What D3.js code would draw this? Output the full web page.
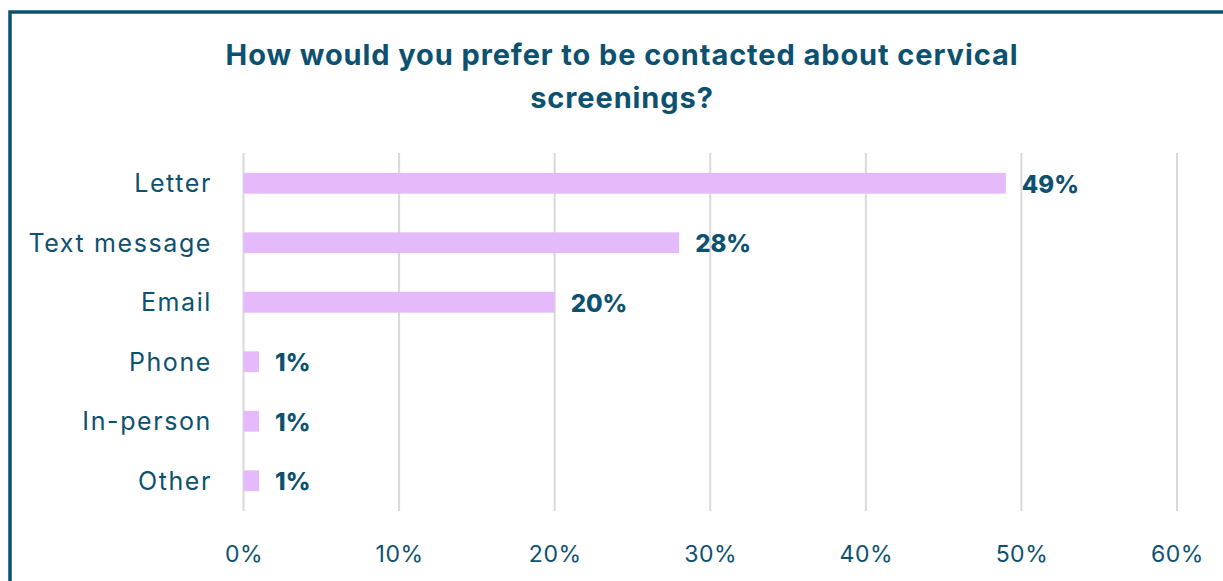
<!DOCTYPE html>
<html lang="en">
  <head>
    <meta charset="utf-8">
    <title>Contact preference</title>
    <style>
      body { margin: 0; background: #fff; }
    </style>
  </head>
  <body>
    <svg id="canvas"></svg>
    <script src="https://cdn.jsdelivr.net/npm/d3@7"></script>
    <script>

      const width = 1223;
      const height = 581;

      const categories = ["Letter", "Text message", "Email", "Phone", "In-person", "Other"];
      const values = [49, 28, 20, 1, 1, 1];
      const ticks = [0, 10, 20, 30, 40, 50, 60];
      const titleLines = ["How would you prefer to be contacted about cervical", "screenings?"];

      const ink = "#0d5170";
      const barColor = "#e5bafb";
      const fontFamily = "Inter, 'Open Sans', sans-serif";

      const svg = d3.select("#canvas")
        .attr("width", width)
        .attr("height", height)
        .attr("viewBox", [0, 0, width, height]);

      // frame, runs off the right and bottom edges
      svg.append("rect")
        .attr("x", 10)
        .attr("y", 12)
        .attr("width", width + 20)
        .attr("height", height + 20)
        .attr("fill", "none")
        .attr("stroke", ink)
        .attr("stroke-width", 3.5);

      // title
      const title = svg.append("text")
        .attr("text-anchor", "middle")
        .attr("font-family", fontFamily)
        .attr("font-weight", 700)
        .attr("font-size", 29)
        .attr("letter-spacing", 0.9)
        .attr("fill", ink);
      title.selectAll("tspan")
        .data(titleLines)
        .join("tspan")
        .attr("x", 622)
        .attr("y", (d, i) => 65 + i * 43)
        .text(d => d);

      const x = d3.scaleLinear()
        .domain([0, 60])
        .range([243.5, 1177]);

      const y = d3.scaleBand()
        .domain(categories)
        .range([153.5, 510.5])
        .paddingInner(0.65)
        .paddingOuter(0.325);

      // grid
      svg.append("g")
        .selectAll("line")
        .data(ticks)
        .join("line")
        .attr("x1", d => x(d))
        .attr("x2", d => x(d))
        .attr("y1", 153)
        .attr("y2", 511)
        .attr("stroke", "#d9d9d9")
        .attr("stroke-width", 2);

      // x axis labels
      const xAxis = svg.append("g")
        .attr("transform", "translate(0,562)")
        .call(d3.axisBottom(x).tickValues(ticks).tickFormat(d => d + "%").tickSize(0).tickPadding(0));
      xAxis.select(".domain").remove();
      xAxis.selectAll("text")
        .attr("dy", 0)
        .attr("font-family", fontFamily)
        .attr("font-size", 23)
        .attr("letter-spacing", 0.5)
        .attr("fill", ink);

      // y axis labels
      const yAxis = svg.append("g")
        .attr("transform", "translate(212,0)")
        .call(d3.axisLeft(y).tickSize(0).tickPadding(0));
      yAxis.select(".domain").remove();
      yAxis.selectAll("text")
        .attr("dy", "0.35em")
        .attr("font-family", fontFamily)
        .attr("font-size", 25)
        .attr("letter-spacing", 1.6)
        .attr("fill", ink);

      const rows = categories.map((c, i) => ({ category: c, value: values[i] }));

      // bars
      svg.append("g")
        .selectAll("rect")
        .data(rows)
        .join("rect")
        .attr("x", x(0))
        .attr("y", d => y(d.category))
        .attr("width", d => x(d.value) - x(0))
        .attr("height", y.bandwidth())
        .attr("fill", barColor);

      // value labels
      svg.append("g")
        .selectAll("text")
        .data(rows)
        .join("text")
        .attr("x", d => x(d.value) + 16)
        .attr("y", d => y(d.category) + y.bandwidth() / 2 + 1)
        .attr("dy", "0.35em")
        .attr("font-family", fontFamily)
        .attr("font-weight", 800)
        .attr("font-size", 24)
        .attr("fill", ink)
        .text(d => d.value + "%");

    </script>
  </body>
</html>
